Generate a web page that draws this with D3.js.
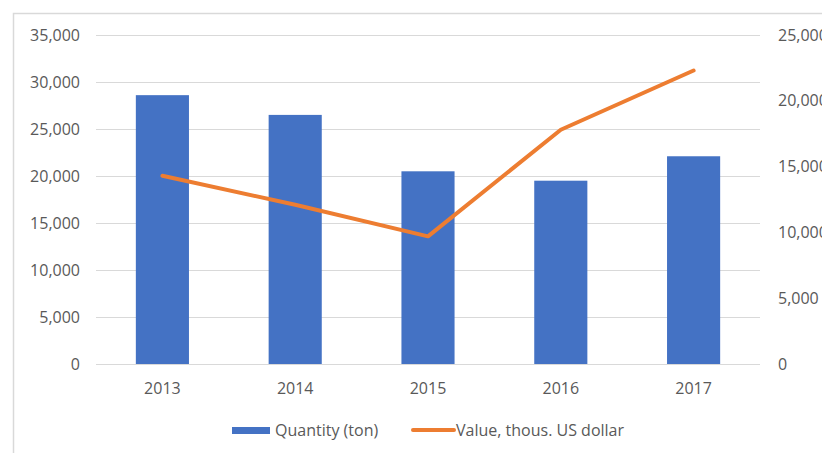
<!DOCTYPE html>
<html lang="en">
<head>
<meta charset="UTF-8">
<title>Quantity and value</title>
<script src="https://d3js.org/d3.v7.min.js"></script>
<style>
  body { margin: 0; background: #ffffff; }
  svg { display: block; }
  text { font-family: "Open Sans", "Noto Sans", sans-serif; fill: #595959; font-size: 16px; }
  .grid line { stroke: #d9d9d9; stroke-width: 1; shape-rendering: crispEdges; }
</style>
</head>
<body>
<svg width="822" height="453"></svg>
<script>
var years = ["2013", "2014", "2015", "2016", "2017"];
var quantity = [28600, 26500, 20500, 19500, 22100];
var value = [14300, 12100, 9700, 17800, 22300];
var leftTicks = [0, 5000, 10000, 15000, 20000, 25000, 30000, 35000];
var rightTicks = [0, 5000, 10000, 15000, 20000, 25000];
var seriesNames = ["Quantity (ton)", "Value, thous. US dollar"];

var svg = d3.select("svg");
var fmt = d3.format(",");

// chart frame
svg.append("rect")
    .attr("x", 13.5).attr("y", 13.5)
    .attr("width", 850).attr("height", 460)
    .attr("fill", "none")
    .attr("stroke", "#d9d9d9")
    .attr("stroke-width", 1.5);

// plot area (window.top is reserved, so use other names)
var plotLeft = 96, plotRight = 760, plotTop = 35, plotBottom = 364;

var x = d3.scaleBand().domain(years).range([plotLeft, plotRight]).paddingInner(0.6).paddingOuter(0.3);
var yL = d3.scaleLinear().domain([0, 35000]).range([plotBottom, plotTop]);
var yR = d3.scaleLinear().domain([0, 25000]).range([plotBottom, plotTop]);

// gridlines
svg.append("g").attr("class", "grid")
    .selectAll("line").data(leftTicks).enter().append("line")
    .attr("x1", plotLeft).attr("x2", plotRight)
    .attr("y1", function (d) { return Math.round(yL(d)) + 0.5; })
    .attr("y2", function (d) { return Math.round(yL(d)) + 0.5; });

// left axis labels
svg.append("g").selectAll("text").data(leftTicks).enter().append("text")
    .attr("x", 80)
    .attr("y", function (d) { return yL(d); })
    .attr("dy", "0.35em")
    .attr("text-anchor", "end")
    .text(function (d) { return fmt(d); });

// right axis labels
svg.append("g").selectAll("text").data(rightTicks).enter().append("text")
    .attr("x", 778)
    .attr("y", function (d) { return yR(d); })
    .attr("dy", "0.35em")
    .attr("text-anchor", "start")
    .text(function (d) { return fmt(d); });

// x labels
svg.append("g").selectAll("text").data(years).enter().append("text")
    .attr("x", function (d) { return x(d) + x.bandwidth() / 2; })
    .attr("y", 388)
    .attr("dy", "0.35em")
    .attr("text-anchor", "middle")
    .text(function (d) { return d; });

// bars
svg.append("g").selectAll("rect").data(quantity).enter().append("rect")
    .attr("x", function (d, i) { return x(years[i]); })
    .attr("width", x.bandwidth())
    .attr("y", function (d) { return yL(d); })
    .attr("height", function (d) { return yL(0) - yL(d); })
    .attr("fill", "#4472c4");

// line
var line = d3.line()
    .x(function (d, i) { return x(years[i]) + x.bandwidth() / 2; })
    .y(function (d) { return yR(d); });

svg.append("path")
    .attr("d", line(value))
    .attr("fill", "none")
    .attr("stroke", "#ed7d31")
    .attr("stroke-width", 4)
    .attr("stroke-linejoin", "round")
    .attr("stroke-linecap", "round");

// legend
var lg = svg.append("g");
lg.append("rect").attr("x", 232).attr("y", 427).attr("width", 38).attr("height", 7).attr("fill", "#4472c4");
lg.append("text").attr("x", 275).attr("y", 430).attr("dy", "0.35em").text(seriesNames[0]);
lg.append("line").attr("x1", 413).attr("x2", 454).attr("y1", 430).attr("y2", 430)
    .attr("stroke", "#ed7d31").attr("stroke-width", 4).attr("stroke-linecap", "round");
lg.append("text").attr("x", 456).attr("y", 430).attr("dy", "0.35em").text(seriesNames[1]);
</script>
</body>
</html>
